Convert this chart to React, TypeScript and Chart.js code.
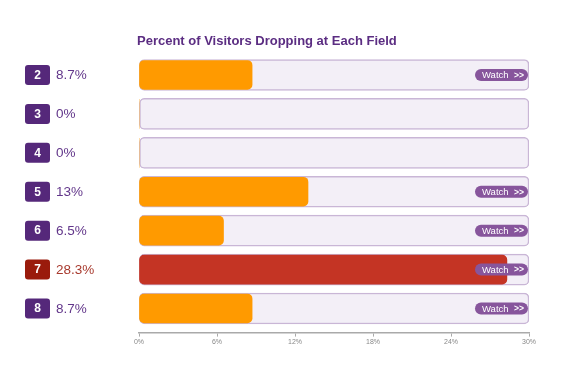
import React, { useEffect, useRef } from 'react';
import { Chart, registerables } from 'chart.js';

Chart.register(...registerables);

const fields = ['2', '3', '4', '5', '6', '7', '8'];
const dropPercents = [8.7, 0, 0, 13, 6.5, 28.3, 8.7];
const percentLabels = ['8.7%', '0%', '0%', '13%', '6.5%', '28.3%', '8.7%'];
const highlightedField = '7';
const xMax = 30;
const xStep = 6;
const chartTitle = 'Percent of Visitors Dropping at Each Field';
const buttonText = 'Watch';

const FONT = '"Liberation Sans", Arial, sans-serif';

function roundRect(ctx: CanvasRenderingContext2D, x: number, y: number, w: number, h: number, r: number) {
  ctx.beginPath();
  ctx.moveTo(x + r, y);
  ctx.lineTo(x + w - r, y);
  ctx.arcTo(x + w, y, x + w, y + r, r);
  ctx.lineTo(x + w, y + h - r);
  ctx.arcTo(x + w, y + h, x + w - r, y + h, r);
  ctx.lineTo(x + r, y + h);
  ctx.arcTo(x, y + h, x, y + h - r, r);
  ctx.lineTo(x, y + r);
  ctx.arcTo(x, y, x + r, y, r);
  ctx.closePath();
}

const overlayPlugin = {
  id: 'overlay',
  afterDatasetsDraw(chart: any) {
    const ctx: CanvasRenderingContext2D = chart.ctx;
    const yScale = chart.scales.y;
    const area = chart.chartArea;
    ctx.save();
    // title
    ctx.font = `bold 13px ${FONT}`;
    ctx.fillStyle = '#5b2d82';
    ctx.textBaseline = 'middle';
    ctx.textAlign = 'left';
    ctx.fillText(chartTitle, area.left - 2, area.top - 14);

    fields.forEach((f, i) => {
      const cy = yScale.getPixelForValue(i);
      const hi = f === highlightedField;
      // badge
      const bx = area.left - 114;
      roundRect(ctx, bx, cy - 10, 25, 20, 3);
      ctx.fillStyle = hi ? '#9a1b0c' : '#55287a';
      ctx.fill();
      ctx.fillStyle = '#ffffff';
      ctx.font = `bold 12px ${FONT}`;
      ctx.textAlign = 'center';
      ctx.fillText(f, bx + 12.5, cy + 0.5);
      // percent text
      ctx.font = `13.5px ${FONT}`;
      ctx.textAlign = 'left';
      ctx.fillStyle = hi ? '#a83a2e' : '#62368a';
      ctx.fillText(percentLabels[i], bx + 31, cy + 0.5);
      // watch button
      if (dropPercents[i] > 0) {
        const w = 53;
        const h = 12;
        const px = area.right - 1 - w;
        roundRect(ctx, px, cy - h / 2, w, h, 6);
        ctx.fillStyle = '#87559c';
        ctx.fill();
        ctx.fillStyle = '#ffffff';
        ctx.font = `9.5px ${FONT}`;
        ctx.textAlign = 'left';
        ctx.fillText(buttonText, px + 7, cy + 0.5);
        ctx.font = `bold 8.5px ${FONT}`;
        ctx.fillText('>>', px + 39, cy + 0.5);
      }
    });
    ctx.restore();
  },
};

export default function App() {
  const ref = useRef<HTMLCanvasElement>(null);
  useEffect(() => {
    if (!ref.current) return;
    const trackData = fields.map((_, i) => ({ x: xMax, y: i }));
    const valueData = dropPercents.map((v, i) => ({ x: v, y: i }));
    const chart = new Chart(ref.current, {
      type: 'bar',
      data: {
        datasets: [
          {
            data: valueData as any,
            backgroundColor: fields.map((f) => (f === highlightedField ? '#c43424' : '#ff9a00')),
            borderWidth: 0,
            borderRadius: 5,
            borderSkipped: false,
            barThickness: 29,
            grouped: false,
            order: 1,
          } as any,
          {
            data: trackData as any,
            backgroundColor: '#f3eff7',
            borderColor: '#c9b6d6',
            borderWidth: 1.5,
            borderRadius: 5,
            borderSkipped: false,
            barThickness: 31,
            grouped: false,
            order: 2,
          } as any,
        ],
      },
      options: {
        indexAxis: 'y',
        animation: false,
        responsive: true,
        maintainAspectRatio: false,
        layout: { padding: { left: 139, right: 36, top: 55.5, bottom: 19 } },
        plugins: {
          legend: { display: false },
          tooltip: { enabled: false },
          title: { display: false },
        },
        scales: {
          y: {
            type: 'linear',
            display: false,
            reverse: true,
            offset: false,
            min: -0.5,
            max: fields.length - 0.38,
          },
          x: {
            type: 'linear',
            min: 0,
            max: xMax,
            grid: { display: true, drawOnChartArea: false, tickLength: 4, color: '#aaaaaa' },
            border: { display: true, color: '#aaaaaa', width: 1.5 },
            ticks: {
              stepSize: xStep,
              padding: 1,
              color: '#888888',
              font: { size: 7, family: FONT },
              callback: (v: any) => `${v}%`,
            },
          },
        },
      } as any,
      plugins: [overlayPlugin],
    });
    return () => chart.destroy();
  }, []);
  return (
    <div style={{ position: 'fixed', left: 0, top: 0, width: 565, height: 366, background: '#fff' }}>
      <canvas ref={ref} />
    </div>
  );
}
